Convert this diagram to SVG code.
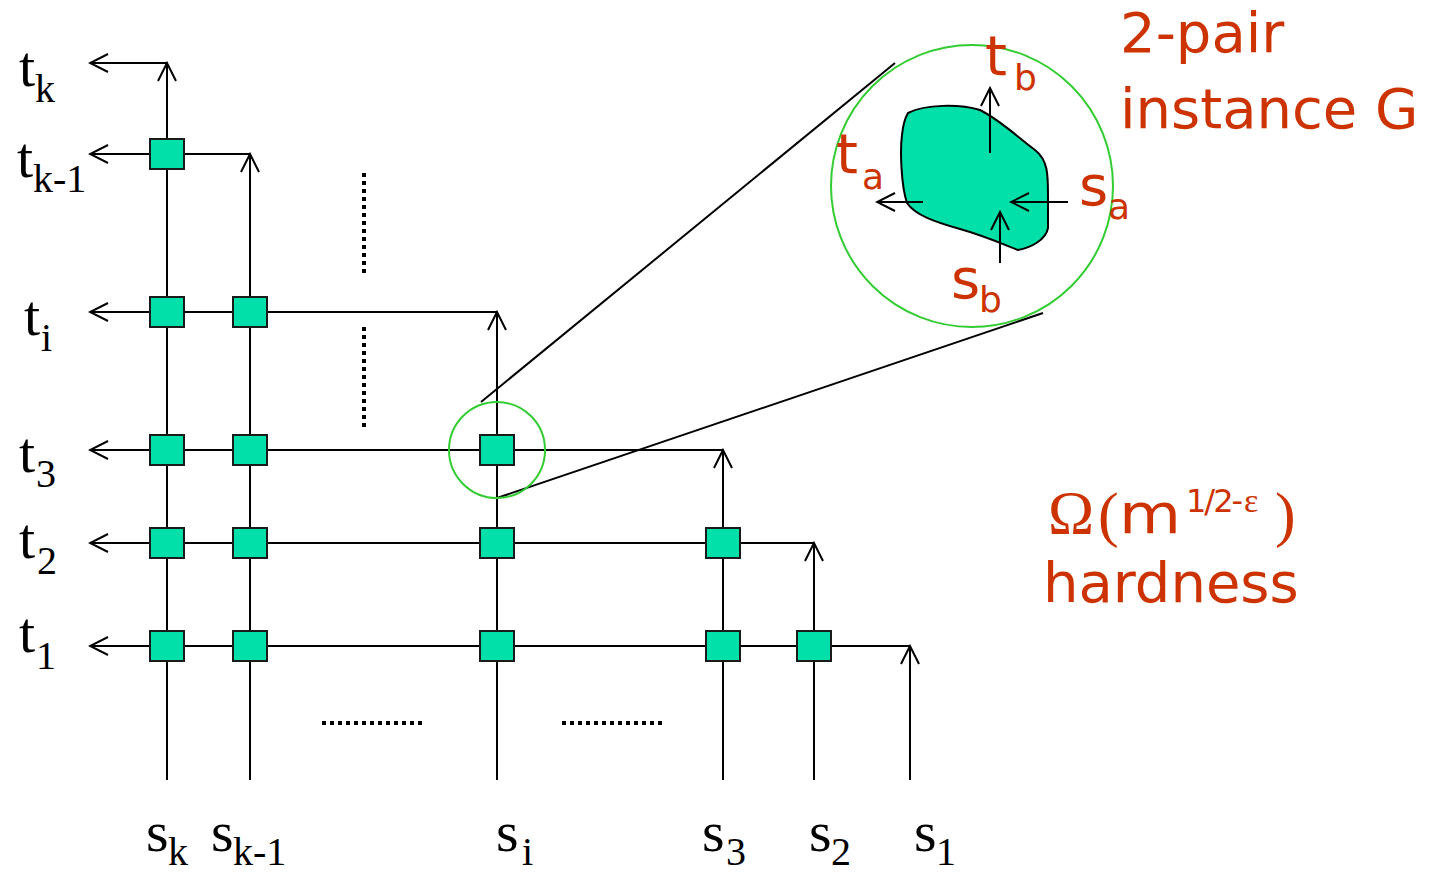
<svg xmlns="http://www.w3.org/2000/svg" width="1443" height="872" viewBox="0 0 1443 872">
<style>
.ln{stroke:#000;stroke-width:2;fill:none}
.ar{marker-end:url(#arr)}
.box{fill:#00E0A8;stroke:#1a1a1a;stroke-width:2}
.dot{stroke:#000;stroke-width:4;stroke-dasharray:4 4;fill:none}
.ring{stroke:#33CC33;stroke-width:2;fill:none}
.tm{font-family:"Liberation Serif","Times New Roman",serif;font-size:58px;fill:#000}
.sub{font-size:40px}
.or{font-family:"DejaVu Sans","Noto Sans",sans-serif;font-size:56px;fill:#CC3300}
.osub{font-size:36px}
.sup{font-size:32px;letter-spacing:-2px}
.orser{font-family:"Liberation Serif","Times New Roman",serif;fill:#CC3300}
</style>
<defs>
<marker id="arr" markerUnits="userSpaceOnUse" viewBox="-20 -11 22 22" refX="0" refY="0" markerWidth="22" markerHeight="22" orient="auto">
<path d="M-18,-9 L0,0 L-18,9" fill="none" stroke="#000" stroke-width="2"/>
</marker>
</defs>
<rect width="1443" height="872" fill="#fff"/>

<g id="connectors">
<line class="ln ar" x1="167" y1="780" x2="167" y2="63"/>
<line class="ln ar" x1="167" y1="63" x2="90" y2="63"/>
<line class="ln ar" x1="250" y1="780" x2="250" y2="154"/>
<line class="ln ar" x1="250" y1="154" x2="90" y2="154"/>
<line class="ln ar" x1="497" y1="780" x2="497" y2="312"/>
<line class="ln ar" x1="497" y1="312" x2="90" y2="312"/>
<line class="ln ar" x1="723" y1="780" x2="723" y2="450"/>
<line class="ln ar" x1="723" y1="450" x2="90" y2="450"/>
<line class="ln ar" x1="814" y1="780" x2="814" y2="543"/>
<line class="ln ar" x1="814" y1="543" x2="90" y2="543"/>
<line class="ln ar" x1="910" y1="780" x2="910" y2="646"/>
<line class="ln ar" x1="910" y1="646" x2="90" y2="646"/>
<line class="dot" x1="364" y1="173" x2="364" y2="273"/>
<line class="dot" x1="364" y1="327" x2="364" y2="427"/>
<line class="dot" x1="322" y1="723" x2="424" y2="723"/>
<line class="dot" x1="562" y1="723" x2="664" y2="723"/>
<line class="ln" x1="481" y1="402" x2="895" y2="63"/>
<line class="ln" x1="497" y1="498" x2="1043" y2="313"/>
</g>

<g id="nodes">
<g id="n-k-km1"><rect class="box" x="150" y="139" width="34" height="30"/></g>
<g id="n-k-i"><rect class="box" x="150" y="297" width="34" height="30"/></g>
<g id="n-k-3"><rect class="box" x="150" y="435" width="34" height="30"/></g>
<g id="n-k-2"><rect class="box" x="150" y="528" width="34" height="30"/></g>
<g id="n-k-1"><rect class="box" x="150" y="631" width="34" height="30"/></g>
<g id="n-km1-i"><rect class="box" x="233" y="297" width="34" height="30"/></g>
<g id="n-km1-3"><rect class="box" x="233" y="435" width="34" height="30"/></g>
<g id="n-km1-2"><rect class="box" x="233" y="528" width="34" height="30"/></g>
<g id="n-km1-1"><rect class="box" x="233" y="631" width="34" height="30"/></g>
<g id="n-i-3"><rect class="box" x="480" y="435" width="34" height="30"/></g>
<g id="n-i-2"><rect class="box" x="480" y="528" width="34" height="30"/></g>
<g id="n-i-1"><rect class="box" x="480" y="631" width="34" height="30"/></g>
<g id="n-3-2"><rect class="box" x="706" y="528" width="34" height="30"/></g>
<g id="n-3-1"><rect class="box" x="706" y="631" width="34" height="30"/></g>
<g id="n-2-1"><rect class="box" x="797" y="631" width="34" height="30"/></g>
<g id="zoom-small"><circle class="ring" cx="497" cy="450" r="48"/></g>

<g id="instance-G">
<circle class="ring" cx="972" cy="186" r="141"/>
<path d="M908,113 C925,104 960,104 980,110 C1000,120 1015,135 1035,150 C1048,160 1048,175 1048,195 L1048,228 C1046,240 1030,248 1018,250 C1005,245 985,236 960,229 C935,222 915,215 907,203 C901,185 900,150 902,135 C903,125 905,118 908,113 Z" fill="#00E0A8" stroke="#000" stroke-width="2"/>
<line class="ln ar" x1="990" y1="153" x2="990" y2="88"/>
<line class="ln ar" x1="923" y1="202" x2="877" y2="202"/>
<line class="ln ar" x1="1068" y1="202" x2="1011" y2="202"/>
<line class="ln ar" x1="1000" y1="263" x2="1000" y2="212"/>
<text class="or" x="985" y="75">t<tspan class="osub" x="1014" y="90">b</tspan></text>
<text class="or" x="836" y="173">t<tspan class="osub" x="862" y="189">a</tspan></text>
<text class="or" x="1079" y="205">s<tspan class="osub" x="1108" y="219">a</tspan></text>
<text class="or" x="951" y="298">s<tspan class="osub" x="979" y="312">b</tspan></text>
</g>

<g id="t-labels">
<text class="tm" x="19" y="86">t<tspan class="sub" x="35" y="102">k</tspan></text>
<text class="tm" x="17" y="177">t<tspan class="sub" x="33" y="192">k-1</tspan></text>
<text class="tm" x="24" y="335">t<tspan class="sub" x="41" y="351">i</tspan></text>
<text class="tm" x="19" y="472">t<tspan class="sub" x="36" y="487">3</tspan></text>
<text class="tm" x="19" y="558">t<tspan class="sub" x="37" y="574">2</tspan></text>
<text class="tm" x="19" y="652">t<tspan class="sub" x="36" y="669">1</tspan></text>
</g>

<g id="s-labels">
<text class="tm" x="146" y="851">s<tspan class="sub" x="168" y="865">k</tspan></text>
<text class="tm" x="211" y="851">s<tspan class="sub" x="233" y="865">k-1</tspan></text>
<text class="tm" x="496" y="851">s<tspan class="sub" x="522" y="865">i</tspan></text>
<text class="tm" x="702" y="851">s<tspan class="sub" x="726" y="865">3</tspan></text>
<text class="tm" x="809" y="851">s<tspan class="sub" x="831" y="865">2</tspan></text>
<text class="tm" x="914" y="851">s<tspan class="sub" x="936" y="865">1</tspan></text>
</g>

<g id="title">
<text class="or" x="1120" y="52">2-pair</text>
<text class="or" x="1120" y="128">instance G</text>
</g>

<g id="hardness">
<text class="orser" x="1048" y="533" font-size="62">Ω</text>
<text class="orser" x="1098" y="535" font-size="62">(</text>
<text class="or" x="1119" y="533" textLength="62" lengthAdjust="spacingAndGlyphs">m</text>
<text class="or sup" x="1186" y="512">1/2-</text>
<text class="orser" x="1244" y="512" font-size="34">ε</text>
<text class="orser" x="1275" y="535" font-size="62">)</text>
<text class="or" x="1043" y="602">hardness</text>
</g>
</g>
</svg>
